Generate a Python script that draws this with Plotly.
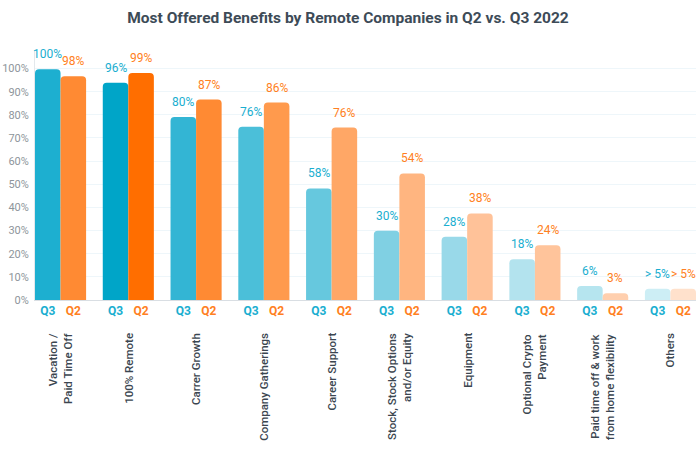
import plotly.graph_objects as go

categories = [
    "Vacation /<br>Paid Time Off",
    "100% Remote",
    "Carrer Growth",
    "Company Gatherings",
    "Career Support",
    "Stock, Stock Options<br>and/or Equity",
    "Equipment",
    "Optional Crypto<br>Payment",
    "Paid time off & work<br>from home flexibility",
    "Others",
]
q3_values = [99.7, 93.8, 79.1, 74.8, 48.2, 29.9, 27.3, 17.6, 6.0, 4.9]
q2_values = [96.7, 98.1, 86.6, 85.3, 74.5, 54.7, 37.4, 23.7, 2.9, 4.9]
q3_labels = ["100%", "96%", "80%", "76%", "58%", "30%", "28%", "18%", "6%", "> 5%"]
q2_labels = ["98%", "99%", "87%", "86%", "76%", "54%", "38%", "24%", "3%", "> 5%"]
q3_colors = ["#1dafd0", "#00a5c8", "#33b5d4", "#4bbfd9", "#66c8de",
             "#80d0e3", "#99d9e9", "#b3e3ee", "#b6e5ef", "#cdeef5"]
q2_colors = ["#ff8a33", "#ff6e00", "#ff8a33", "#ff9a4d", "#ffa766",
             "#ffb580", "#ffc299", "#ffc49b", "#ffcfae", "#ffe1cc"]
y_ticks = [0, 10, 20, 30, 40, 50, 60, 70, 80, 90, 100]

BLUE = "#1aaed0"
ORANGE = "#ff7f22"
FONT = "Roboto"

bar_w = 0.377
idx = list(range(len(categories)))
x_q3 = [i - bar_w / 2 for i in idx]
x_q2 = [i + bar_w / 2 for i in idx]

fig = go.Figure()
fig.add_trace(go.Bar(x=x_q3, y=q3_values, width=bar_w, marker=dict(color=q3_colors, line=dict(width=0)),
                     name="Q3", hoverinfo="skip"))
fig.add_trace(go.Bar(x=x_q2, y=q2_values, width=bar_w, marker=dict(color=q2_colors, line=dict(width=0)),
                     name="Q2", hoverinfo="skip"))

annotations = []
for xs, vals, labs, col in [(x_q3, q3_values, q3_labels, BLUE), (x_q2, q2_values, q2_labels, ORANGE)]:
    for x, v, t in zip(xs, vals, labs):
        annotations.append(dict(x=x, y=v, xref="x", yref="y", text=t, showarrow=False,
                                yanchor="bottom", yshift=6,
                                font=dict(family=FONT, size=12, color=col)))
for i, c in zip(idx, categories):
    annotations.append(dict(x=i, y=0, xref="x", yref="paper", text=c, showarrow=False,
                            textangle=-90, yanchor="top", xanchor="center", yshift=-31,
                            align="right",
                            font=dict(family=FONT, size=11.5, color="#3b4650", weight=500)))

tickvals = []
ticktext = []
for a, b in zip(x_q3, x_q2):
    tickvals += [a, b]
    ticktext += [f"<span style='color:{BLUE}'><b>Q3</b></span>",
                 f"<span style='color:{ORANGE}'><b>Q2</b></span>"]

fig.update_layout(
    width=696, height=450,
    margin=dict(l=35, r=0, t=50, b=150),
    paper_bgcolor="white", plot_bgcolor="white",
    barmode="overlay", barcornerradius=4,
    showlegend=False,
    title=dict(text="<b>Most Offered Benefits by Remote Companies in Q2 vs. Q3 2022</b>",
               x=0.5, xanchor="center", y=0.96, yanchor="middle",
               font=dict(family=FONT, size=15.5, color="#3d4b57")),
    xaxis=dict(range=[-bar_w, len(categories) - 1 + bar_w], tickvals=tickvals, ticktext=ticktext,
               showgrid=False, zeroline=False, showline=True, linecolor="#d9dee3", linewidth=1,
               ticks="", tickfont=dict(family=FONT, size=12), fixedrange=True, automargin=False),
    yaxis=dict(range=[0, 108], tickvals=y_ticks, ticktext=[f"{t}%" for t in y_ticks],
               showgrid=True, gridcolor="#eef6fa", gridwidth=1, zeroline=False,
               showline=True, linecolor="#e3e8ec", linewidth=1, ticks="",
               tickfont=dict(family=FONT, size=11, color="#8e959b"), ticklabelstandoff=3,
               fixedrange=True, automargin=False),
    annotations=annotations,
)

fig.write_html("out.html", config={"displayModeBar": False},
               post_script="document.body.style.margin='0';document.body.style.padding='0';")
